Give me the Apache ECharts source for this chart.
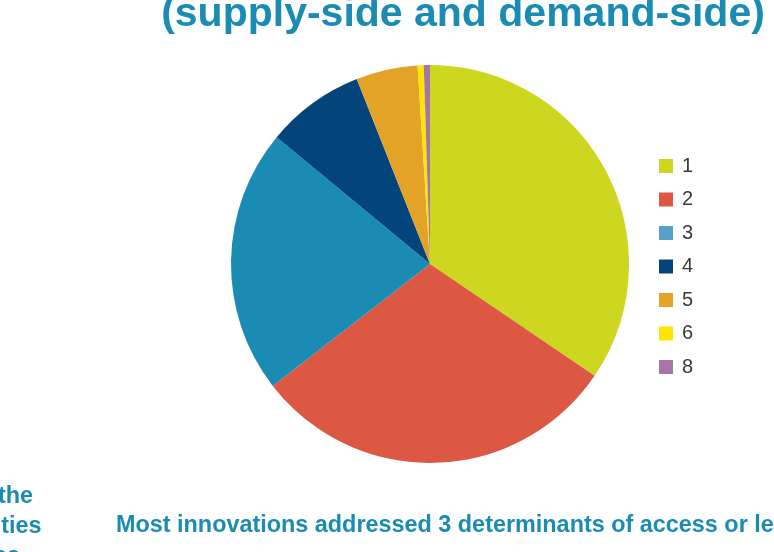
<!DOCTYPE html>
<html>
<head>
<meta charset="utf-8">
<style>
  html, body { margin: 0; padding: 0; background: #ffffff; }
  #chart { width: 774px; height: 552px; }
</style>
<script src="https://cdn.jsdelivr.net/npm/echarts@6/dist/echarts.min.js"></script>
</head>
<body>
<div id="chart"></div>
<script>
// Number of access determinants addressed per innovation
const categories = ['1', '2', '3', '4', '5', '6', '8'];
const counts = [69, 60, 43, 16, 10, 1, 1];
const sliceColors = ['#cdd71f', '#dc5842', '#1a8cb4', '#03457a', '#e3a326', '#ffe500', '#a776a8'];
const legendColors = ['#cdd71f', '#dc5842', '#55a0c4', '#03457a', '#e3a326', '#ffe500', '#a776a8'];

const titleLine = '(supply-side and demand-side)';
const sideLines = ['of the', 'counties', 'services'];
const noteLine = 'Most innovations addressed 3 determinants of access or less';

const accent = '#1a8cb4';
const fontFamily = '"Liberation Sans", Arial, sans-serif';
const chart = echarts.init(document.getElementById('chart'));

const pieData = categories.map((c, i) => ({
  name: c,
  value: counts[i],
  itemStyle: { color: sliceColors[i] }
}));

const legendData = categories.map((c, i) => ({
  name: c,
  itemStyle: { color: legendColors[i] }
}));

// text placed by its top edge; baseline sits ~0.78 of the font size below
function textAt(text, x, baseline, size, align) {
  return {
    type: 'text',
    x: x,
    y: baseline - 0.78 * size,
    style: {
      text: text,
      fill: accent,
      font: 'bold ' + size + 'px ' + fontFamily,
      align: align,
      verticalAlign: 'top'
    }
  };
}

const sideRight = [33, 41.5, 20];
const sideText = sideLines.map((t, i) => textAt(t, sideRight[i], 503 + i * 30, 23.4, 'right'));

chart.setOption({
  animation: false,
  backgroundColor: '#ffffff',
  legend: {
    orient: 'vertical',
    left: 654,
    top: 151,
    itemWidth: 14,
    itemHeight: 14,
    itemGap: 13.5,
    icon: 'rect',
    selectedMode: false,
    data: legendData,
    textStyle: {
      color: '#3a3a3a',
      fontSize: 20,
      fontFamily: fontFamily,
      padding: [0, 0, 0, 4]
    }
  },
  series: [{
    type: 'pie',
    center: [430, 264],
    radius: 199,
    startAngle: 90,
    clockwise: true,
    label: { show: false },
    labelLine: { show: false },
    emphasis: { disabled: true },
    itemStyle: { borderWidth: 0 },
    data: pieData
  }],
  graphic: [
    textAt(titleLine, 463, 26, 41, 'center'),
    textAt(noteLine, 116, 532, 23.4, 'left')
  ].concat(sideText)
});
</script>
</body>
</html>
